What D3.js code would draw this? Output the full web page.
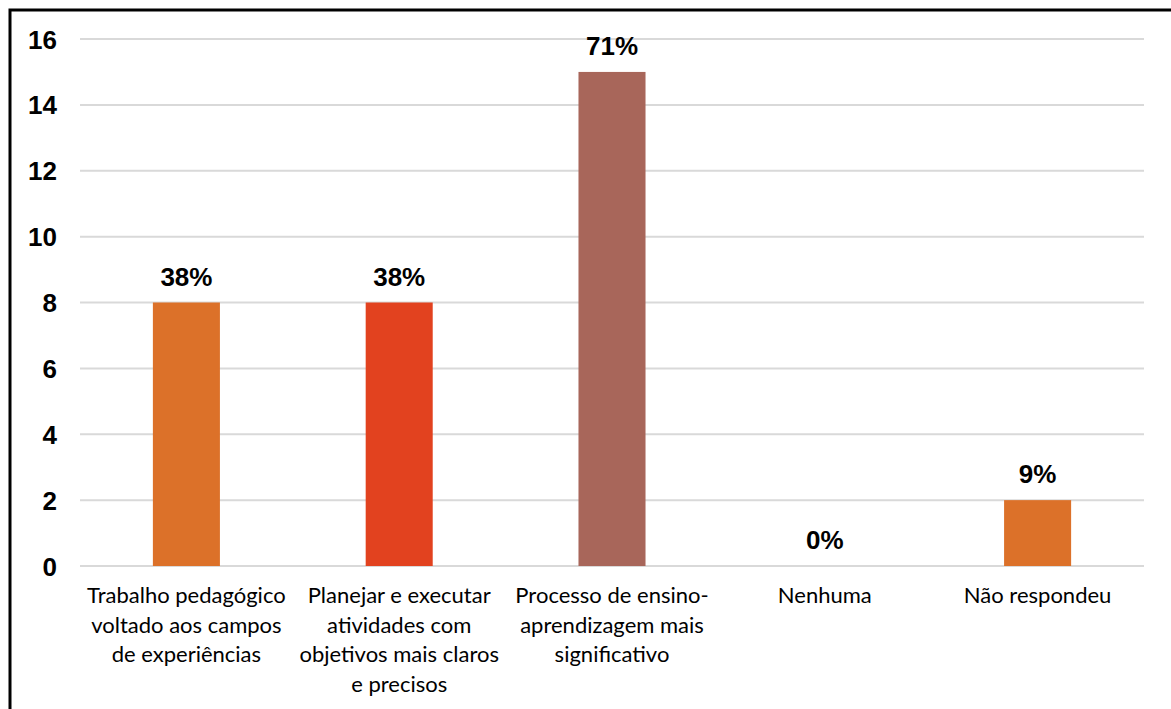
<!DOCTYPE html>
<html><head><meta charset="utf-8">
<script src="https://cdn.jsdelivr.net/npm/d3@7"></script>
<style>body{margin:0;background:#fff}svg{display:block}</style>
</head><body>
<script>
const categories = [
  ["Trabalho pedagógico","voltado aos campos","de experiências"],
  ["Planejar e executar","atividades com","objetivos mais claros","e precisos"],
  ["Processo de ensino-","aprendizagem mais","significativo"],
  ["Nenhuma"],
  ["Não respondeu"]
];
const values = [8, 8, 15, 0, 2];
const percentLabels = ["38%", "38%", "71%", "0%", "9%"];
const barColors = ["#DC7129", "#E2421F", "#A8665A", "#DC7129", "#DC7129"];
const yTicks = [0, 2, 4, 6, 8, 10, 12, 14, 16];

const W = 1171, H = 709;
const svg = d3.select("body").append("svg").attr("width", W).attr("height", H);
svg.append("rect").attr("width", W).attr("height", H).attr("fill", "#fff");
svg.append("rect").attr("x", 10).attr("y", 10).attr("width", W + 20).attr("height", H + 20)
  .attr("fill", "none").attr("stroke", "#000").attr("stroke-width", 3);

const x = d3.scaleBand().domain(d3.range(categories.length)).range([80, 1144]).padding(0);
const y = d3.scaleLinear().domain([0, 16]).range([566, 39]);
const barW = x.bandwidth() * 0.315;

const g = svg.append("g");
g.selectAll("line.grid").data(yTicks).join("line")
  .attr("x1", 80).attr("x2", 1144)
  .attr("y1", d => y(d)).attr("y2", d => y(d))
  .attr("stroke", "#d9d9d9").attr("stroke-width", 2);

const yAxis = d3.axisLeft(y).tickValues(yTicks).tickSize(0).tickPadding(0);
const ya = svg.append("g").attr("transform", "translate(57,0)").call(yAxis);
ya.select(".domain").remove();
ya.selectAll("text").attr("font-family", "Liberation Sans, Arial, sans-serif")
  .attr("font-weight", "bold").attr("font-size", 26).attr("fill", "#000").attr("dy", "0.35em");

g.selectAll("rect.bar").data(values).join("rect")
  .attr("x", (d, i) => x(i) + x.bandwidth() / 2 - barW / 2)
  .attr("width", barW)
  .attr("y", d => y(d))
  .attr("height", d => y(0) - y(d))
  .attr("fill", (d, i) => barColors[i]);

g.selectAll("text.val").data(values).join("text")
  .attr("x", (d, i) => x(i) + x.bandwidth() / 2)
  .attr("y", d => y(d) - 17)
  .attr("text-anchor", "middle")
  .attr("font-family", "Liberation Sans, Arial, sans-serif")
  .attr("font-weight", "bold").attr("font-size", 26).attr("fill", "#000")
  .text((d, i) => percentLabels[i]);

const cat = g.selectAll("text.cat").data(categories).join("text")
  .attr("text-anchor", "middle")
  .attr("font-family", "Lato, sans-serif").attr("font-size", 22).attr("fill", "#000");
cat.each(function(lines, i) {
  const t = d3.select(this);
  lines.forEach((l, j) => {
    t.append("tspan").attr("x", x(i) + x.bandwidth() / 2).attr("y", 603 + j * 29.5).text(l);
  });
});
</script>
</body></html>
